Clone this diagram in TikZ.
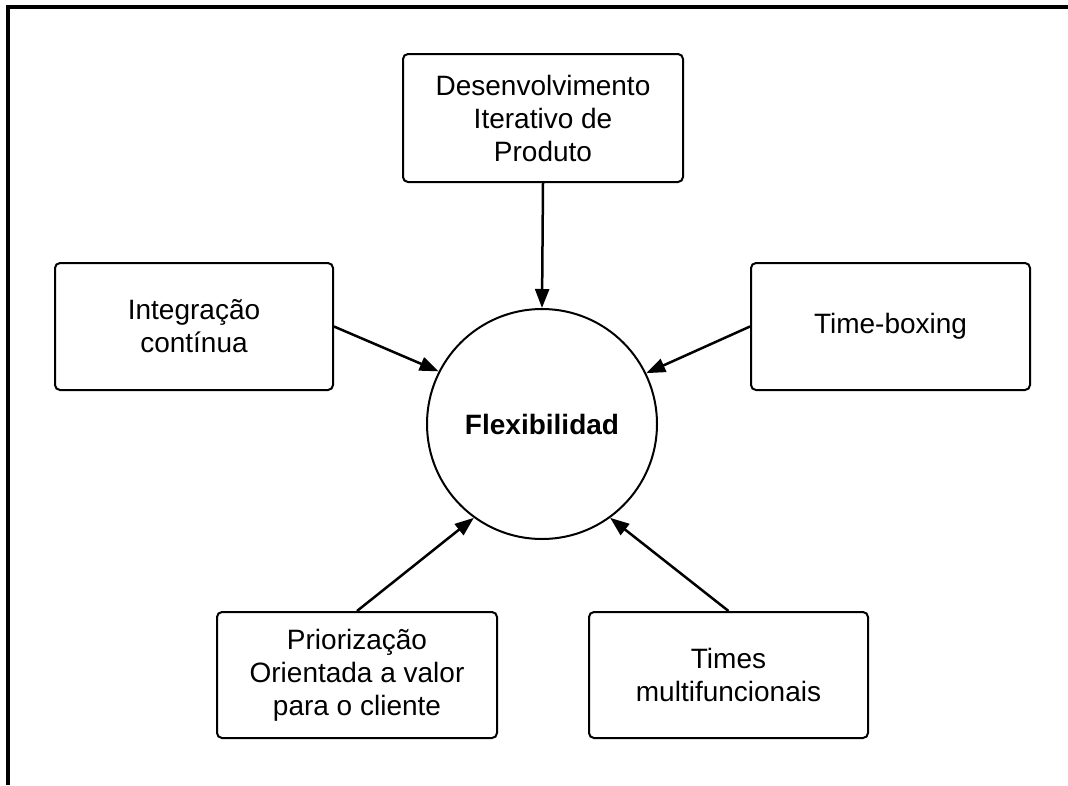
\documentclass[tikz,border=0pt]{standalone}
\usepackage{fontspec}
\setmainfont{Liberation Sans}
\usetikzlibrary{arrows.meta}
\begin{document}
\begin{tikzpicture}[x=1pt,y=-1pt,
  box/.style={draw,line width=2pt,rounded corners=5pt,align=center,
    inner sep=0pt,font=\fontsize{28}{33}\selectfont},
  conn/.style={line width=2.5pt,-{Triangle[length=19pt,width=14pt]}}]
\useasboundingbox (0,0) rectangle (1068,785);
\draw[line width=4pt] (8,785) -- (8,7) -- (1068,7);
\node[draw,circle,line width=2pt,minimum size=230pt,inner sep=0pt,
  font=\fontsize{28}{33}\selectfont\bfseries] (c) at (542,424) {Flexibilidad};
\node[box,minimum width=280pt,minimum height=128pt] (top) at (543,118)
  {Desenvolvimento\\Iterativo de\\Produto};
\node[box,minimum width=278pt,minimum height=127pt] (left) at (194,326.5)
  {Integração\\contínua};
\node[box,minimum width=279pt,minimum height=127pt] (right) at (890.5,326.5)
  {Time-boxing};
\node[box,minimum width=280pt,minimum height=126pt] (bl) at (357,675)
  {Priorização\\Orientada a valor\\para o cliente};
\node[box,minimum width=279pt,minimum height=126pt] (br) at (728.5,675)
  {Times\\multifuncionais};
\draw[conn] (top.south) -- (c.north);
\draw[conn] (left.east) -- (c.153.7);
\draw[conn] (right.west) -- (c.26.8);
\draw[conn] (bl.north) -- (c.234.4);
\draw[conn] (br.north) -- (c.306.7);
\end{tikzpicture}
\end{document}
